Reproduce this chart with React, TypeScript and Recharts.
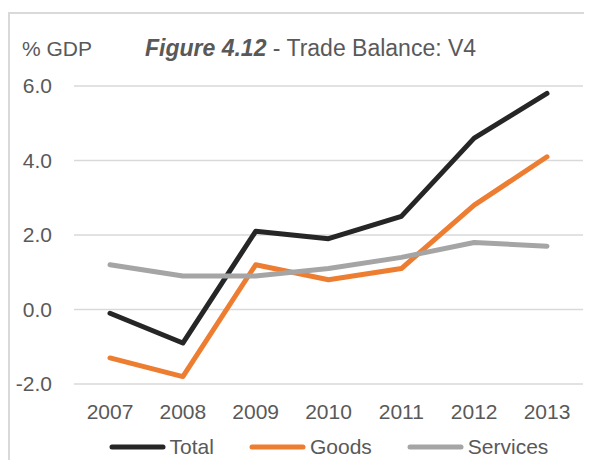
import React from "react";
import { CartesianGrid, Line, LineChart, XAxis, YAxis } from "recharts";

const years = ["2007", "2008", "2009", "2010", "2011", "2012", "2013"];
const total = [-0.1, -0.9, 2.1, 1.9, 2.5, 4.6, 5.8];
const goods = [-1.3, -1.8, 1.2, 0.8, 1.1, 2.8, 4.1];
const services = [1.2, 0.9, 0.9, 1.1, 1.4, 1.8, 1.7];
const yTicks = [-2, 0, 2, 4, 6];

const seriesList = [
  { key: "total", name: "Total", color: "#262626" },
  { key: "goods", name: "Goods", color: "#ED7D31" },
  { key: "services", name: "Services", color: "#A5A5A5" },
];

const data = years.map((year, i) => ({
  year,
  total: total[i],
  goods: goods[i],
  services: services[i],
}));

const FONT = "'Liberation Sans', Arial, sans-serif";
const TEXT = "#595959";

function LegendBox() {
  return (
    <div
      style={{
        position: "absolute",
        left: 66,
        width: 509,
        top: 427,
        display: "flex",
        justifyContent: "center",
        gap: 35,
        fontFamily: FONT,
      }}
    >
      {seriesList.map((s) => (
        <div key={s.key} style={{ display: "flex", alignItems: "center", gap: 4 }}>
          <svg width={57} height={8}>
            <line x1={3} y1={4} x2={54} y2={4} stroke={s.color} strokeWidth={5} strokeLinecap="round" />
          </svg>
          <span style={{ fontSize: 21, color: TEXT, lineHeight: "24px" }}>{s.name}</span>
        </div>
      ))}
    </div>
  );
}

export default function App() {
  return (
    <div style={{ position: "relative", width: 584, height: 452, overflow: "hidden", fontFamily: FONT }}>
      <div
        style={{
          position: "absolute",
          left: 0,
          top: 4,
          width: 600,
          height: 500,
          borderTop: "2px solid #D9D9D9",
          borderLeft: "2px solid #D9D9D9",
        }}
      />
      <div style={{ position: "absolute", left: 14, top: 29, fontSize: 21, color: TEXT, whiteSpace: "nowrap" }}>
        % GDP
      </div>
      <div style={{ position: "absolute", left: 137, top: 27, fontSize: 23, color: TEXT, whiteSpace: "nowrap" }}>
        <b><i>Figure 4.12</i></b> - Trade Balance: V4
      </div>
      <LineChart width={584} height={452} data={data} margin={{ top: 78, right: 9, bottom: 0, left: 0 }}>
        <CartesianGrid vertical={false} stroke="#D9D9D9" strokeWidth={1.5} />
        <XAxis
          dataKey="year"
          axisLine={false}
          tickLine={false}
          tickMargin={14}
          padding={{ left: 36, right: 36 }}
          height={76}
          tick={{ fill: TEXT, fontSize: 21, fontFamily: FONT }}
        />
        <YAxis
          domain={[-2, 6]}
          ticks={yTicks}
          width={66}
          axisLine={false}
          tickLine={false}
          tickMargin={16}
          tickFormatter={(v: number) => v.toFixed(1)}
          tick={{ fill: TEXT, fontSize: 21, fontFamily: FONT }}
        />
        {seriesList.map((s) => (
          <Line
            key={s.key}
            dataKey={s.key}
            name={s.name}
            stroke={s.color}
            strokeWidth={5}
            strokeLinecap="round"
            strokeLinejoin="round"
            dot={false}
            type="linear"
            isAnimationActive={false}
          />
        ))}
      </LineChart>
      <LegendBox />
    </div>
  );
}
